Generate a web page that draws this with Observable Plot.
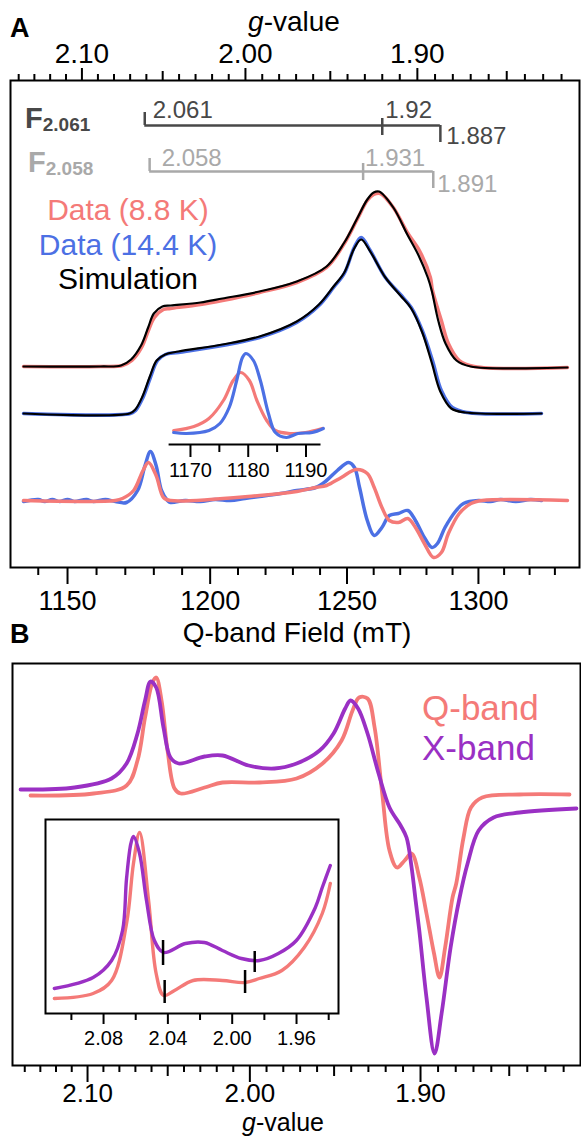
<!DOCTYPE html>
<html><head><meta charset="utf-8">
<script src="https://cdn.jsdelivr.net/npm/d3@7"></script>
<script src="https://cdn.jsdelivr.net/npm/@observablehq/plot@0.6"></script>
<style>
body{margin:0;background:#fff;}
#wrap{position:relative;width:581px;height:1136px;overflow:hidden;font-family:"Liberation Sans",Arial,Helvetica,sans-serif;}
#wrap svg{position:absolute;overflow:visible;}
</style></head><body><div id="wrap"></div>
<script>
// ---------- constants / ticks ----------
const FIELD_TIMES_G = 2425.4; // B(mT) * g at the Q-band frequency
const fieldMajorTicks = [1150, 1200, 1250, 1300];
const fieldMinorTicks = [1140,1160,1170,1180,1190,1210,1220,1230,1240,1260,1270,1280,1290,1310,1320,1330];
const gMajorTicks = [2.10, 2.00, 1.90];
const gMidTicks = [2.05, 1.95, 1.85];
const gMinorTicks = [2.14,2.13,2.12,2.11,2.09,2.08,2.07,2.06,2.04,2.03,2.02,2.01,1.99,1.98,1.97,1.96,1.94,1.93,1.92,1.91,1.89,1.88,1.87,1.86,1.84,1.83,1.82];
const insetAMajorTicks = [1170, 1180, 1190];
const insetAMinorTicks = [1175, 1185];
const insetBMajorTicks = [2.08, 2.04, 2.00, 1.96];
const insetBMinorTicks = [2.10, 2.06, 2.02, 1.98, 1.94];

// g-tensor components of the two simulated species
const gF2061 = [2.061, 1.92, 1.887];
const gF2058 = [2.058, 1.931, 1.891];

// ---------- Panel A : field (mT), intensity (a.u.) ----------
const red88Abs = [[1135.0,201],[1161.4,201],[1169.0,202],[1172.3,207],[1175.7,220],[1178.1,237],[1180.2,250],[1183.4,258],[1185.9,259],[1196.5,263],[1204.4,267],[1217.8,275],[1231.4,285],[1242.4,300],[1249.0,324],[1253.6,347],[1257.6,367],[1260.0,373],[1262.5,374],[1267.4,360],[1272.7,335],[1277.3,317],[1281.5,290],[1282.3,277],[1285.7,247],[1288.4,224],[1292.6,207],[1298.4,201],[1335.0,200]];
const simRed88 = [[1135.0,201],[1161.4,201],[1168.5,202],[1172.0,208],[1175.5,222],[1178.0,240],[1180.0,254],[1183.0,261],[1186.0,262],[1196.5,265],[1204.4,269],[1217.8,276],[1231.4,286],[1242.4,301],[1249.0,325],[1253.6,348],[1257.6,368],[1260.0,375],[1262.0,376],[1267.4,360],[1272.7,333],[1277.0,312],[1280.5,290],[1282.0,277],[1284.5,247],[1287.3,224],[1291.5,207],[1297.0,201],[1335.0,200]];
const blue144Abs = [[1135.0,154],[1171.8,154],[1173.6,157],[1176.2,170],[1178.8,190],[1181.3,207],[1184.1,213],[1188.7,215],[1204.4,222],[1217.8,230],[1231.4,245],[1239.6,262],[1245.0,280],[1249.0,294],[1252.7,320],[1255.3,330],[1258.7,317],[1264.4,290],[1270.1,273],[1274.2,260],[1278.4,237],[1282.3,207],[1285.7,177],[1289.9,160],[1295.7,155],[1324.7,154]];
const simBlue144 = [[1135.0,154],[1171.5,154],[1173.5,158],[1176.0,171],[1178.6,191],[1181.0,207],[1184.0,213],[1188.7,216],[1204.4,223],[1217.8,231],[1231.4,246],[1239.6,263],[1245.0,281],[1249.0,295],[1252.7,319],[1255.3,328],[1258.7,316],[1264.4,290],[1270.1,272],[1274.2,259],[1278.4,235],[1282.0,205],[1285.3,176],[1289.5,159],[1295.0,155],[1324.7,154]];
const blue144Deriv = [[1135.0,66],[1140.0,68],[1142.2,66],[1144.8,68],[1147.3,66],[1150.0,68],[1152.4,66],[1156.5,68],[1158.9,66],[1163.1,68],[1166.5,66],[1170.4,65],[1174.3,77],[1176.9,102],[1178.8,116],[1180.8,102],[1182.7,77],[1184.8,67],[1185.9,65],[1191.1,67],[1196.5,66],[1201.8,68],[1207.2,67],[1212.5,69],[1217.8,71],[1225.5,74],[1231.4,77],[1238.4,80],[1242.4,87],[1246.4,97],[1250.6,105],[1252.8,100],[1254.7,80],[1257.6,47],[1260.2,32],[1263.1,40],[1265.9,52],[1269.3,54],[1272.9,57],[1275.8,47],[1279.2,30],[1282.1,20],[1284.2,24],[1287.1,40],[1291.4,57],[1294.2,64],[1300.0,67],[1304.7,66],[1308.6,68],[1314.6,66],[1320.3,68],[1324.7,67]];
const red88Deriv = [[1135.0,67],[1166.5,67],[1169.0,69],[1172.9,77],[1176.2,97],[1178.1,105],[1180.8,92],[1183.4,70],[1185.9,67],[1217.8,72],[1231.4,76],[1238.4,80],[1242.4,82],[1247.9,90],[1253.4,98],[1257.6,94],[1260.2,80],[1263.1,60],[1265.9,47],[1269.3,45],[1272.9,49],[1275.8,40],[1279.2,24],[1282.7,10],[1285.7,15],[1288.4,34],[1292.6,54],[1297.1,64],[1301.4,67],[1335.0,67]];
// inset of panel A (field mT, a.u.)
const insetRed = [[1167.1,14],[1170.6,18],[1173.2,26],[1175.7,44],[1177.4,64],[1178.7,72],[1180.2,64],[1181.5,44],[1183.2,24],[1184.7,14],[1187.3,11],[1189.9,12],[1192.8,16]];
const insetBlue = [[1167.1,12],[1169.3,11],[1173.2,14],[1175.1,21],[1176.7,37],[1178.0,64],[1179.0,87],[1179.6,91],[1180.9,84],[1182.1,64],[1183.5,31],[1184.7,12],[1186.6,7],[1188.6,11],[1191.1,12],[1193.0,16]];

// ---------- Panel B : g-value, intensity (a.u.) ----------
const xBand = [[2.1427,276],[2.1082,278],[2.0849,287],[2.0755,302],[2.0687,332],[2.0640,365],[2.0606,384],[2.0571,378],[2.0526,338],[2.0483,308],[2.0433,302],[2.0274,309],[2.0165,310],[2.0008,300],[1.9852,297],[1.9721,302],[1.9585,315],[1.9503,332],[1.9435,357],[1.9404,365],[1.9360,357],[1.9305,332],[1.9241,292],[1.9178,258],[1.9114,240],[1.9080,228],[1.9051,198],[1.9028,165],[1.9007,135],[1.8966,68],[1.8920,12],[1.8880,52],[1.8829,118],[1.8778,168],[1.8733,202],[1.8671,235],[1.8587,248],[1.8443,253],[1.8130,257]];
const qBand = [[2.1363,270],[2.0962,272],[2.0755,280],[2.0687,305],[2.0640,348],[2.0594,383],[2.0571,388],[2.0538,365],[2.0501,315],[2.0458,277],[2.0421,272],[2.0274,278],[2.0165,283],[1.9942,283],[1.9721,287],[1.9568,302],[1.9456,325],[1.9392,355],[1.9354,368],[1.9305,367],[1.9264,338],[1.9220,272],[1.9178,215],[1.9135,198],[1.9091,205],[1.9051,212],[1.9007,188],[1.8966,152],[1.8923,112],[1.8892,88],[1.8860,118],[1.8818,168],[1.8797,182],[1.8756,228],[1.8714,258],[1.8651,268],[1.8443,271],[1.8168,271]];
const xBandInset = [[2.1106,25],[2.0865,36],[2.0750,53],[2.0682,83],[2.0657,135],[2.0630,170],[2.0614,177],[2.0576,160],[2.0533,113],[2.0484,73],[2.0427,61],[2.0291,70],[2.0173,71],[2.0061,63],[1.9943,55],[1.9831,53],[1.9713,60],[1.9601,73],[1.9483,106],[1.9440,126],[1.9390,148]];
const qBandInset = [[2.1106,15],[2.0865,20],[2.0750,33],[2.0657,90],[2.0614,150],[2.0576,181],[2.0520,113],[2.0473,40],[2.0427,18],[2.0359,23],[2.0243,33],[2.0061,33],[1.9921,31],[1.9831,35],[1.9691,43],[1.9552,66],[1.9440,100],[1.9390,130]];
const xBandMarkers = [2.043, 1.986];
const qBandMarkers = [2.042, 1.992];

// ---------- styles ----------
const SALMON = "#F47A78", BLUE = "#4C70E4", PURPLE = "#9A30C4", DARK = "#484848", LIGHT = "#A9A9A9";
const FONT = "Liberation Sans, Arial, Helvetica, sans-serif";
const wrap = document.getElementById("wrap");
const place = (el, left, top) => { el.style.left = left + "px"; el.style.top = top + "px"; wrap.appendChild(el); return el; };
const P = d => d[0], V = d => d[1];
const toField = g => FIELD_TIMES_G / g;
const blank = () => "";

// ---------- Panel A ----------
const fRules = [
  {g: gF2061, level: 442, c: DARK, tl: [442,455], tm: [449,432], tr: [442,425]},
  {g: gF2058, level: 396, c: LIGHT, tl: [396,409], tm: [404,387], tr: [396,379]}
];
const fTicks = fRules.flatMap(f => [
  {x: toField(f.g[0]), y1: f.tl[0], y2: f.tl[1], c: f.c},
  {x: toField(f.g[1]), y1: f.tm[0], y2: f.tm[1], c: f.c},
  {x: toField(f.g[2]), y1: f.tr[0], y2: f.tr[1], c: f.c}
]);
const fLabels = [
  {x: toField(gF2061[0]), y: 450, t: gF2061[0].toFixed(3), c: DARK, dx: 8},
  {x: toField(gF2061[1]), y: 450, t: gF2061[1].toFixed(2), c: DARK, dx: 3},
  {x: toField(gF2061[2]), y: 424, t: gF2061[2].toFixed(3), c: DARK, dx: 6},
  {x: toField(gF2058[0]), y: 402, t: gF2058[0].toFixed(3), c: LIGHT, dx: 12},
  {x: toField(gF2058[1]), y: 402, t: gF2058[1].toFixed(3), c: LIGHT, dx: 2},
  {x: toField(gF2058[2]), y: 376, t: gF2058[2].toFixed(3), c: LIGHT, dx: 4}
];

const plotA = Plot.plot({
  width: 581, height: 650,
  marginTop: 80, marginBottom: 83, marginLeft: 10, marginRight: 2,
  style: {fontFamily: FONT, fontSize: "27px", background: "transparent", color: "#000"},
  x: {type: "log", domain: [1130.6, 1339.8]},
  y: {domain: [0, 487], axis: null},
  marks: [
    Plot.frame({stroke: "#000", strokeWidth: 2}),
    Plot.axisX({anchor: "bottom", ticks: fieldMinorTicks, tickSize: 8, tickFormat: blank, label: null, strokeWidth: 2}),
    Plot.axisX({anchor: "bottom", ticks: fieldMajorTicks, tickSize: 17, tickPadding: 6, tickFormat: d => String(d), label: null, strokeWidth: 2}),
    Plot.axisX({anchor: "top", ticks: gMinorTicks.map(toField), tickSize: 7, tickFormat: blank, label: null, strokeWidth: 2}),
    Plot.axisX({anchor: "top", ticks: gMidTicks.map(toField), tickSize: 10, tickFormat: blank, label: null, strokeWidth: 2}),
    Plot.axisX({anchor: "top", ticks: gMajorTicks.map(toField), tickSize: 13, tickPadding: 5, tickFormat: d => (FIELD_TIMES_G / d).toFixed(2), label: null, strokeWidth: 2, fontSize: 28}),
    Plot.ruleY(fRules, {y: "level", x1: f => toField(f.g[0]), x2: f => toField(f.g[2]), stroke: "c", strokeWidth: 2.5}),
    Plot.ruleX(fTicks, {x: "x", y1: "y1", y2: "y2", stroke: "c", strokeWidth: 2.5}),
    ...fLabels.map(l => Plot.text([l], {x: "x", y: "y", text: "t", fill: "c", dx: l.dx, textAnchor: "start", lineAnchor: "bottom", fontSize: 24})),
    Plot.line(red88Abs, {x: P, y: V, stroke: SALMON, strokeWidth: 3.5, curve: "catmull-rom"}),
    Plot.line(blue144Abs, {x: P, y: V, stroke: BLUE, strokeWidth: 3.5, curve: "catmull-rom"}),
    Plot.line(simRed88, {x: P, y: V, stroke: "#000", strokeWidth: 2.2, curve: "catmull-rom"}),
    Plot.line(simBlue144, {x: P, y: V, stroke: "#000", strokeWidth: 2.2, curve: "catmull-rom"}),
    Plot.line(blue144Deriv, {x: P, y: V, stroke: BLUE, strokeWidth: 3.5, curve: "catmull-rom"}),
    Plot.line(red88Deriv, {x: P, y: V, stroke: SALMON, strokeWidth: 3.5, curve: "catmull-rom"})
  ]
});
place(plotA, 0, 0);

const insetA = Plot.plot({
  width: 175, height: 145,
  marginTop: 4, marginBottom: 41, marginLeft: 8.6, marginRight: 14.5,
  style: {fontFamily: FONT, fontSize: "20px", background: "transparent", color: "#000"},
  x: {domain: [1166.3, 1192.6]},
  y: {domain: [0, 100], axis: null},
  marks: [
    Plot.ruleY([0], {stroke: "#000", strokeWidth: 2}),
    Plot.axisX({ticks: insetAMinorTicks, tickSize: 8, tickFormat: blank, label: null, strokeWidth: 2}),
    Plot.axisX({ticks: insetAMajorTicks, tickSize: 13, tickPadding: 5, tickFormat: d => String(d), label: null, strokeWidth: 2}),
    Plot.line(insetRed, {x: P, y: V, stroke: SALMON, strokeWidth: 3.2, curve: "catmull-rom"}),
    Plot.line(insetBlue, {x: P, y: V, stroke: BLUE, strokeWidth: 3.2, curve: "catmull-rom"})
  ]
});
place(insetA, 160, 340);

// ---------- Panel B ----------
const plotB = Plot.plot({
  width: 581, height: 486,
  marginTop: 13, marginBottom: 71, marginLeft: 12, marginRight: 1,
  style: {fontFamily: FONT, fontSize: "26px", background: "transparent", color: "#000"},
  x: {type: "log", domain: [2.1479, 1.8108]},
  y: {domain: [0, 402], axis: null},
  marks: [
    Plot.frame({stroke: "#000", strokeWidth: 2}),
    Plot.axisX({ticks: gMinorTicks, tickSize: 7, tickFormat: blank, label: null, strokeWidth: 2}),
    Plot.axisX({ticks: gMidTicks, tickSize: 11, tickFormat: blank, label: null, strokeWidth: 2}),
    Plot.axisX({ticks: gMajorTicks, tickSize: 17, tickPadding: 1, tickFormat: d => d.toFixed(2), label: null, strokeWidth: 2}),
    Plot.line(qBand, {x: P, y: V, stroke: SALMON, strokeWidth: 3.8, curve: "catmull-rom"}),
    Plot.line(xBand, {x: P, y: V, stroke: PURPLE, strokeWidth: 3.8, curve: "catmull-rom"})
  ]
});
place(plotB, 0, 650);

const markerRows = [
  ...xBandMarkers.map((g, i) => ({g, y1: [73, 62][i], y2: [48, 41][i]})),
  ...qBandMarkers.map((g, i) => ({g, y1: [33, 43][i], y2: [10, 20][i]}))
];
const insetB = Plot.plot({
  width: 310, height: 250,
  marginTop: 19, marginBottom: 37, marginLeft: 5, marginRight: 12,
  style: {fontFamily: FONT, fontSize: "20px", background: "transparent", color: "#000"},
  x: {domain: [2.1161, 1.9339]},
  y: {domain: [0, 194], axis: null},
  marks: [
    Plot.frame({fill: "#fff"}),
    Plot.frame({stroke: "#000", strokeWidth: 2}),
    Plot.axisX({ticks: insetBMinorTicks, tickSize: 7, tickFormat: blank, label: null, strokeWidth: 2}),
    Plot.axisX({ticks: insetBMajorTicks, tickSize: 11, tickPadding: 6, tickFormat: d => d.toFixed(2), label: null, strokeWidth: 2}),
    Plot.line(qBandInset, {x: P, y: V, stroke: SALMON, strokeWidth: 3.4, curve: "catmull-rom"}),
    Plot.line(xBandInset, {x: P, y: V, stroke: PURPLE, strokeWidth: 3.4, curve: "catmull-rom"}),
    Plot.ruleX(markerRows, {x: "g", y1: "y1", y2: "y2", stroke: "#000", strokeWidth: 2.5})
  ]
});
place(insetB, 40, 800);

// ---------- annotations overlay ----------
const ov = d3.select(wrap).append("svg").attr("width", 581).attr("height", 1136)
  .style("left", "0px").style("top", "0px").style("pointer-events", "none")
  .attr("font-family", FONT);
function txt(x, y, size, fill, anchor, parts, weight) {
  const t = ov.append("text").attr("x", x).attr("y", y).attr("font-size", size)
    .attr("fill", fill).attr("text-anchor", anchor).attr("font-weight", weight || "normal");
  parts.forEach(p => {
    const s = t.append("tspan").text(p.t);
    if (p.italic) s.attr("font-style", "italic");
    if (p.size) s.attr("font-size", p.size);
    if (p.dy) s.attr("dy", p.dy);
  });
}
txt(10, 37, 27, "#000", "start", [{t: "A"}], "bold");
txt(294, 31, 28, "#000", "middle", [{t: "g", italic: true}, {t: "-value"}]);
txt(25, 128, 29, DARK, "start", [{t: "F"}, {t: "2.061", size: 19, dy: 3}], "bold");
txt(28, 172, 29, LIGHT, "start", [{t: "F"}, {t: "2.058", size: 19, dy: 3}], "bold");
txt(128, 220, 30, SALMON, "middle", [{t: "Data (8.8 K)"}]);
txt(128, 255, 30, BLUE, "middle", [{t: "Data (14.4 K)"}]);
txt(128, 289, 30, "#000", "middle", [{t: "Simulation"}]);
txt(297, 642, 28, "#000", "middle", [{t: "Q-band Field (mT)"}]);
txt(10, 643, 27, "#000", "start", [{t: "B"}], "bold");
txt(422, 720, 35, SALMON, "start", [{t: "Q-band"}]);
txt(422, 760, 35, PURPLE, "start", [{t: "X-band"}]);
txt(283, 1130.5, 25, "#000", "middle", [{t: "g", italic: true}, {t: "-value"}]);
</script></body></html>
